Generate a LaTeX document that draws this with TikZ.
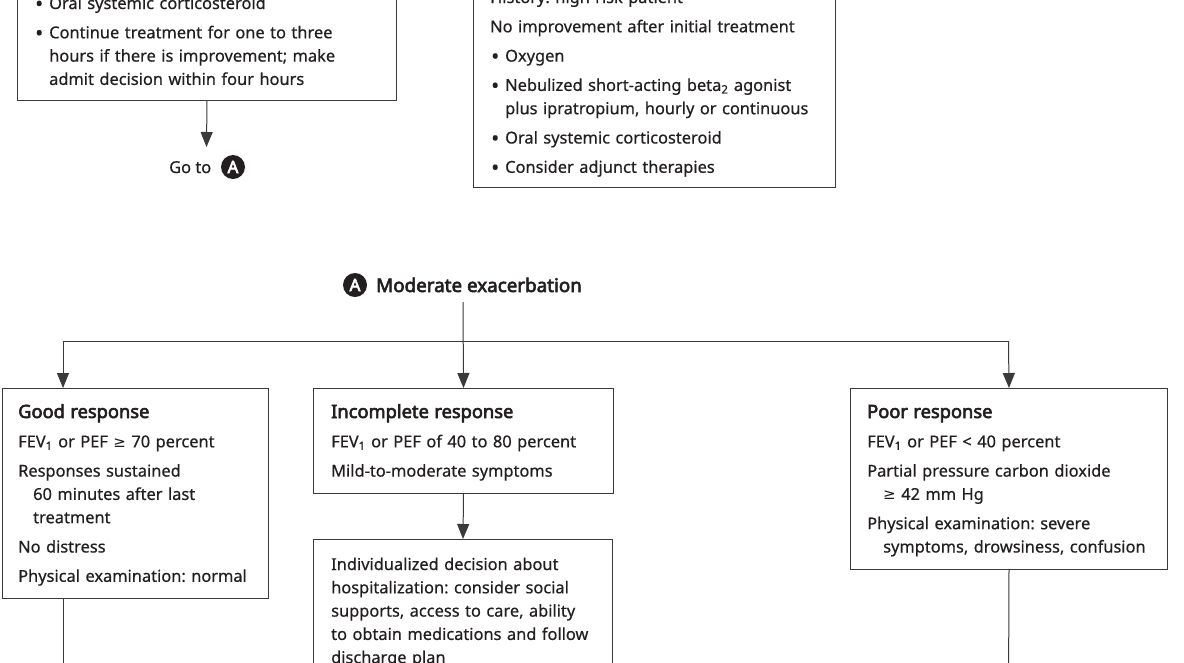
\documentclass[tikz,border=0pt]{standalone}
\usepackage{fontspec}
\setmainfont{Noto Sans}[FakeBold=0.5, BoldFont={Noto Sans}, BoldFeatures={FakeBold=3.2}]
\newfontfamily\symf{DejaVu Sans}
\newcommand{\gtr}{{\symf\fontsize{15}{23.3}\selectfont ≥}}
\newcommand{\bul}{\makebox[15pt][l]{\hspace*{1pt}\raisebox{-2.2pt}{\scalebox{1.3}{•}}}}
\usetikzlibrary{arrows.meta,calc}
\definecolor{ink}{HTML}{231F20}
\definecolor{edge}{HTML}{3A3A3A}
\begin{document}
\frenchspacing
\begin{tikzpicture}[x=1pt,y=-1pt,
  box/.style={draw=edge, line width=1pt, inner sep=0pt, rectangle},
  txt/.style={anchor=base west, inner sep=0pt, align=left, text width=420pt, text=ink,
              font={\fontsize{16.4}{23.3}\selectfont\frenchspacing}},
  lbl/.style={anchor=base west, inner sep=0pt, text=ink, font={\fontsize{16.4}{23.3}\selectfont}},
  circA/.style={circle, fill=ink, text=white, inner sep=0pt, minimum size=24pt,
                font={\fontsize{17}{17}\selectfont\bfseries}},
  arr/.style={draw=edge, line width=1pt, -{Triangle[length=15pt,width=12pt]}},
  ln/.style={draw=edge, line width=1pt}
]
\newcommand{\hdr}[1]{{\fontsize{18.3}{23.3}\selectfont\bfseries #1}}
\useasboundingbox (0,0) rectangle (1184,662);
\clip (0,0) rectangle (1184,662);
\fill[white] (0,0) rectangle (1184,662);

% boxes
\node[box, anchor=south west, minimum width=379pt, minimum height=160pt] (tl) at (17,101) {};
\node[box, anchor=south west, minimum width=362pt, minimum height=240pt] (tm) at (473,188) {};
\node[box, anchor=north west, minimum width=266pt, minimum height=210pt] (good) at (2,388) {};
\node[box, anchor=north west, minimum width=300pt, minimum height=105pt] (inc) at (313,388) {};
\node[box, anchor=north west, minimum width=299pt, minimum height=200pt] (ind) at (313,539) {};
\node[box, anchor=north west, minimum width=317pt, minimum height=181pt] (poor) at (850,388) {};

% texts
\node[txt] (tlt) at (34,9) {\bul Oral systemic corticosteroid\\[6pt]
\bul Continue treatment for one to three\\
\hspace*{15pt}hours if there is improvement; make\\
\hspace*{15pt}admit decision within four hours};

\node[txt] (tmt) at (490,3) {History: high-risk patient\\[6pt]
No improvement after initial treatment\\[6pt]
\bul Oxygen\\[6pt]
\bul Nebulized short-acting beta\textsubscript{2} agonist\\
\hspace*{15pt}plus ipratropium, hourly or continuous\\[6pt]
\bul Oral systemic corticosteroid\\[6pt]
\bul Consider adjunct therapies};

\node[txt] (goodt) at (18,418) {\hdr{Good response}\\[6pt]
FEV\textsubscript{1} or PEF \gtr{} 70 percent\\[6pt]
Responses sustained\\
\hspace*{15pt}60 minutes after last\\
\hspace*{15pt}treatment\\[6pt]
No distress\\[6pt]
Physical examination: normal};

\node[txt] (inct) at (331,418) {\hdr{Incomplete response}\\[6pt]
FEV\textsubscript{1} or PEF of 40 to 80 percent\\[6pt]
Mild-to-moderate symptoms};

\node[txt] (indt) at (331,570) {Individualized decision about\\
hospitalization: consider social\\
supports, access to care, ability\\
to obtain medications and follow\\
discharge plan};

\node[txt] (poort) at (867,418) {\hdr{Poor response}\\[6pt]
FEV\textsubscript{1} or PEF < 40 percent\\[6pt]
Partial pressure carbon dioxide\\
\hspace*{16pt}\gtr{} 42 mm Hg\\[6pt]
Physical examination: severe\\
\hspace*{16pt}symptoms, drowsiness, confusion};

% Go to A
\node[lbl] (goto) at (169,173) {Go to};
\node[circA] (ga) at (233,167) {A};

% Moderate exacerbation
\node[circA] (ma) at (355,285) {A};
\node[lbl, font={\fontsize{18.8}{23.3}\selectfont\bfseries}] (modex) at (376,292) {Moderate exacerbation};

% connectors
\coordinate (gotop) at (206.5,147);
\draw[arr] (tl.south) -- (gotop);
\coordinate (mtop) at (463,302);
\draw[arr] (mtop) -- (inc.north);
\coordinate (bl) at (63,341);
\coordinate (br) at (1008.5,341);
\draw[ln] (bl) -- (br);
\draw[arr] (bl) -- (bl |- good.north);
\draw[arr] (br) -- (poor.north);
\draw[arr] (inc.south) -- (ind.north);
\coordinate (gdown) at (63,700);
\draw[ln] (good.south -| gdown) -- (gdown);
\coordinate (pdown) at (1008.5,700);
\draw[ln] (poor.south) -- (pdown);
\end{tikzpicture}
\end{document}
